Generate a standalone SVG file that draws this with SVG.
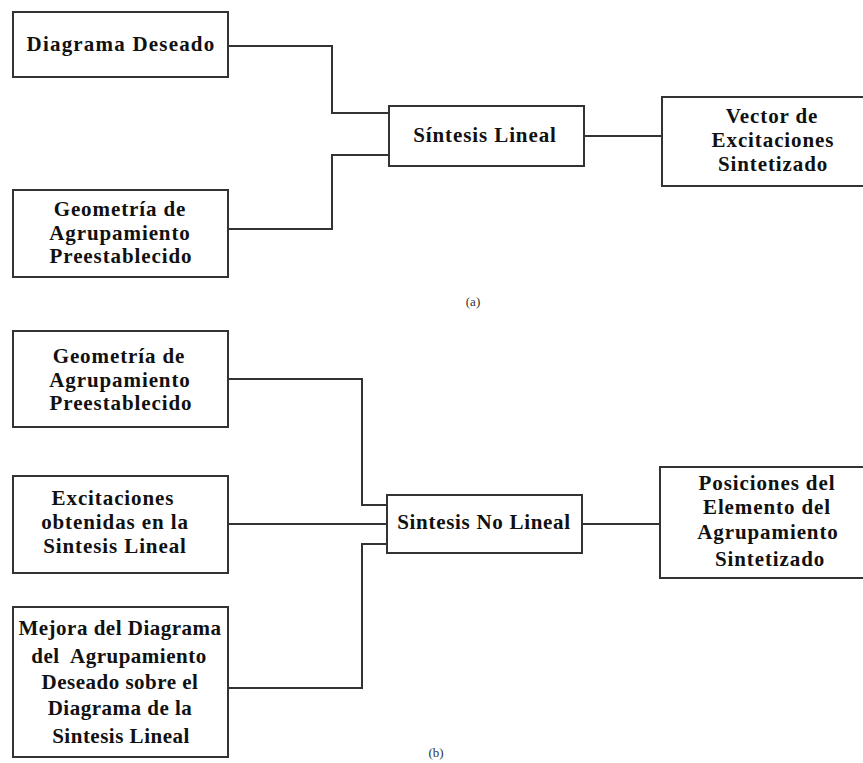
<svg xmlns="http://www.w3.org/2000/svg" width="863" height="763" viewBox="0 0 863 763">
<style>
.box{fill:#fff;stroke:#333;stroke-width:2}
.t{font-family:"Liberation Serif","Times New Roman",serif;font-weight:bold;font-size:21px;letter-spacing:0.9px;fill:#111;text-anchor:middle}
.m{letter-spacing:0.5px}
.lbl{font-family:"Liberation Serif","Times New Roman",serif;font-size:13px;fill:#333;text-anchor:middle}
.conn{fill:none;stroke:#333;stroke-width:2}
</style>
<rect width="863" height="763" fill="#fff"/>
<g id="connectors">
<polyline class="conn" points="228,46 332,46 332,113 389,113"/>
<polyline class="conn" points="228,229 332,229 332,155 389,155"/>
<line class="conn" x1="584" y1="136" x2="662" y2="136"/>
<polyline class="conn" points="228,379 362,379 362,505 387,505"/>
<line class="conn" x1="228" y1="524" x2="387" y2="524"/>
<polyline class="conn" points="228,688 362,688 362,544 387,544"/>
<line class="conn" x1="582" y1="524" x2="660" y2="524"/>
</g>
<g id="a-diagrama">
<rect class="box" x="13" y="12" width="215" height="65"/>
<text class="t" x="121" y="51" style="letter-spacing:1.2px">Diagrama Deseado</text>
</g>
<g id="a-geometria">
<rect class="box" x="13" y="190" width="215" height="87"/>
<text class="t" x="120" y="216">Geometría de</text>
<text class="t" x="120" y="239.5">Agrupamiento</text>
<text class="t" x="121" y="263">Preestablecido</text>
</g>
<g id="a-sintesis">
<rect class="box" x="389" y="106" width="195" height="60"/>
<text class="t" x="485" y="142">Síntesis Lineal</text>
</g>
<g id="a-vector">
<rect class="box" x="662" y="97" width="220" height="89"/>
<text class="t" x="772" y="123">Vector de</text>
<text class="t" x="773" y="147">Excitaciones</text>
<text class="t" x="773" y="171">Sintetizado</text>
</g>
<text class="lbl" x="473" y="306">(a)</text>
<g id="b-geometria">
<rect class="box" x="13" y="331" width="215" height="96"/>
<text class="t" x="119" y="363">Geometría de</text>
<text class="t" x="120" y="386.5">Agrupamiento</text>
<text class="t" x="121" y="410">Preestablecido</text>
</g>
<g id="b-excitaciones">
<rect class="box" x="13" y="476" width="215" height="97"/>
<text class="t" x="113" y="505">Excitaciones</text>
<text class="t" x="115" y="529">obtenidas en la</text>
<text class="t" x="115" y="553">Sintesis Lineal</text>
</g>
<g id="b-mejora">
<rect class="box" x="13" y="607" width="215" height="150"/>
<text class="t m" x="120" y="635">Mejora del Diagrama</text>
<text class="t m" x="119" y="663" style="white-space:pre">del  Agrupamiento</text>
<text class="t m" x="120" y="689">Deseado sobre el</text>
<text class="t m" x="120" y="715">Diagrama de la</text>
<text class="t m" x="121" y="743">Sintesis Lineal</text>
</g>
<g id="b-sintesis">
<rect class="box" x="387" y="495" width="195" height="58"/>
<text class="t" x="484" y="529" style="letter-spacing:0.7px">Sintesis No Lineal</text>
</g>
<g id="b-posiciones">
<rect class="box" x="660" y="467" width="222" height="111"/>
<text class="t" x="767" y="490">Posiciones del</text>
<text class="t" x="767" y="514">Elemento del</text>
<text class="t" x="768" y="539">Agrupamiento</text>
<text class="t" x="770" y="566">Sintetizado</text>
</g>
<text class="lbl" x="436" y="757">(b)</text>
</svg>
